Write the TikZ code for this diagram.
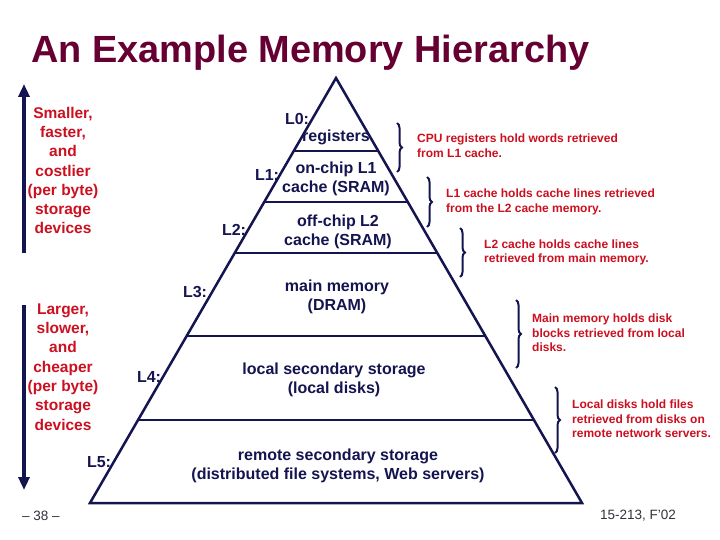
\documentclass[tikz,border=0pt]{standalone}
\usepackage{fontspec}
\setmainfont{Liberation Sans}
\usetikzlibrary{decorations.pathreplacing,arrows.meta,calc}
\definecolor{navy}{RGB}{20,20,80}
\definecolor{titlecol}{RGB}{102,0,51}
\definecolor{myred}{RGB}{204,16,32}
\definecolor{foot}{RGB}{50,50,60}
\begin{document}
\begin{tikzpicture}[x=1pt,y=-1pt,
  lvl/.style={text=navy, font=\bfseries\fontsize{16}{19}\selectfont, align=center, inner sep=0pt},
  lab/.style={text=navy, font=\bfseries\fontsize{16}{19}\selectfont, inner sep=0pt},
  side/.style={text=myred, font=\bfseries\fontsize{15.5}{19.3}\selectfont, align=center, inner sep=0pt},
  note/.style={text=myred, font=\bfseries\fontsize{12}{14.5}\selectfont, align=left, inner sep=0pt, anchor=west},
  pyr/.style={draw=navy, line width=2.5pt, line join=miter},
  brc/.style={draw=navy, line width=2pt, decorate, decoration={brace, amplitude=5pt}},
  bigarrow/.style={draw=navy, line width=4pt, -{Triangle[length=13pt,width=11pt]}},
  footer/.style={text=foot, font=\fontsize{13.5}{15}\selectfont, inner sep=0pt}
]
\useasboundingbox (0,0) rectangle (720,540);
\fill[white] (0,0) rectangle (720,540);

% title
\node[anchor=base west, inner sep=0pt, text=titlecol, font=\bfseries\fontsize{37.9}{40}\selectfont] (title) at (31,63) {An Example Memory Hierarchy};

% pyramid
\coordinate (apex) at (336,78);
\coordinate (bl) at (90,503);
\coordinate (br) at (582,503);
\draw[pyr] (apex) -- (bl) -- (br) -- cycle;
\foreach \t in {0.1718,0.2918,0.4118,0.6071,0.8047}
  \draw[pyr] ($(apex)!\t!(bl)$) -- ($(apex)!\t!(br)$);

% level labels
\node[lab] (l0) at (297,119) {L0:};
\node[lab] (l1) at (267,175) {L1:};
\node[lab] (l2) at (234,230) {L2:};
\node[lab] (l3) at (195,292) {L3:};
\node[lab] (l4) at (149,377) {L4:};
\node[lab] (l5) at (99,462) {L5:};

\node[lvl] (t0) at (336,137) {registers};
\node[lvl] (t1) at (336,179) {on-chip L1\\cache (SRAM)};
\node[lvl] (t2) at (338,232) {off-chip L2\\cache (SRAM)};
\node[lvl] (t3) at (337,297) {main memory\\(DRAM)};
\node[lvl] (t4) at (334,380) {local secondary storage\\(local disks)};
\node[lvl] (t5) at (338,466) {remote secondary storage\\(distributed file systems, Web servers)};

% side arrows and text
\coordinate (ua0) at (24,253);
\coordinate (ua1) at (24,84);
\coordinate (da0) at (24,305);
\coordinate (da1) at (24,490);
\draw[bigarrow] (ua0) -- (ua1);
\draw[bigarrow] (da0) -- (da1);
\node[side] (up) at (63,170.5) {Smaller,\\faster,\\and\\costlier\\(per byte)\\storage\\devices};
\node[side] (down) at (63,367) {Larger,\\slower,\\and\\cheaper\\(per byte)\\storage\\devices};

% braces
\coordinate (b1a) at (397,123); \coordinate (b1b) at (397,172);
\coordinate (b2a) at (427,177); \coordinate (b2b) at (427,227);
\coordinate (b3a) at (460,228); \coordinate (b3b) at (460,277);
\coordinate (b4a) at (516,300); \coordinate (b4b) at (516,368);
\coordinate (b5a) at (555,387); \coordinate (b5b) at (555,453);
\draw[brc] (b1a) -- (b1b);
\draw[brc] (b2a) -- (b2b);
\draw[brc] (b3a) -- (b3b);
\draw[brc] (b4a) -- (b4b);
\draw[brc] (b5a) -- (b5b);

% notes
\node[note] (n1) at (417,145.5) {CPU registers hold words retrieved\\from L1 cache.};
\node[note] (n2) at (446,202) {L1 cache holds cache lines retrieved\\from the L2 cache memory.};
\node[note] (n3) at (484,252.5) {L2 cache holds cache lines\\retrieved from main memory.};
\node[note] (n4) at (532,333) {Main memory holds disk\\blocks retrieved from local\\disks.};
\node[note] (n5) at (572,419) {Local disks hold files\\retrieved from disks on\\remote network servers.};

% footers
\node[footer] (pg) at (41,516) {-- 38 --};
\node[footer] (course) at (638,516) {15-213, F'02};
\end{tikzpicture}
\end{document}
